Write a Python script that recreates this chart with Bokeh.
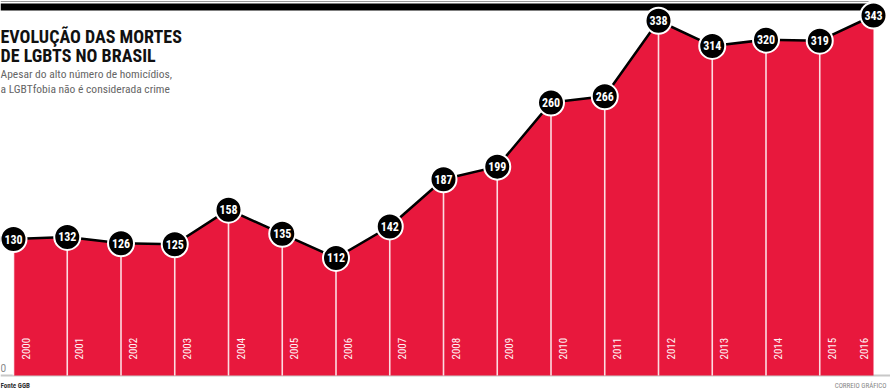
import math
from bokeh.plotting import figure
from bokeh.models import ColumnDataSource, Range1d
from bokeh.core.properties import value
from bokeh.embed import file_html
from bokeh.resources import INLINE

# ---------------- data ----------------
years = [2000, 2001, 2002, 2003, 2004, 2005, 2006, 2007, 2008,
         2009, 2010, 2011, 2012, 2013, 2014, 2015, 2016]
year_labels = [str(y) for y in years]
deaths = [130, 132, 126, 125, 158, 135, 112, 142, 187,
          199, 260, 266, 338, 314, 320, 319, 343]
title_lines = ["EVOLUÇÃO DAS MORTES", "DE LGBTS NO BRASIL"]
subtitle_lines = ["Apesar do alto número de homicídios,",
                  "a LGBTfobia não é considerada crime"]
source_text = "Fonte GGB"
credit_text = "CORREIO GRÁFICO"
zero_label = "0"

# ---------------- layout ----------------
W, H = 890, 390
X_FIRST_PX, X_LAST_PX = 13, 873
BASE_PX, TOP_VAL_PX = 375, 15
sx = (X_LAST_PX - X_FIRST_PX) / (years[-1] - years[0])
x_start = years[0] - X_FIRST_PX / sx
x_end = x_start + W / sx
sy = (BASE_PX - TOP_VAL_PX) / max(deaths)
y_end = max(deaths) + TOP_VAL_PX / sy
y_start = y_end - H / sy


def px_x(px):
    return x_start + px / sx


def px_y(py):
    return y_end - py / sy


RED = "#E8183D"
REG = "Roboto"
COND = "Roboto Condensed"
COND2 = "DejaVu Sans Condensed"

p = figure(width=W, height=H, x_range=Range1d(x_start, x_end),
           y_range=Range1d(y_start, y_end), output_backend="svg",
           toolbar_location=None, x_axis_type=None, y_axis_type=None,
           min_border=0, outline_line_color=None,
           background_fill_color="white", border_fill_color="white")
p.grid.visible = False

# baseline
p.segment(x0=[x_start], y0=[0], x1=[x_end], y1=[0],
          line_color="#c8c8c8", line_width=2)

src = ColumnDataSource(dict(
    year=years, deaths=deaths, zero=[0] * len(years),
    label=[str(v) for v in deaths], ylabel=year_labels,
    ylab_y=[px_y(BASE_PX - 16)] * len(years),
    xoff=[12] * (len(years) - 1) + [-10],
))

p.varea(x="year", y1="zero", y2="deaths", source=src, fill_color=RED)

vsrc = ColumnDataSource(dict(year=years[:-1], deaths=deaths[:-1],
                             zero=[0] * (len(years) - 1)))
p.segment(x0="year", y0="zero", x1="year", y1="deaths", source=vsrc,
          line_color="white", line_width=1.6, line_alpha=0.85)

p.line(x="year", y="deaths", source=src, line_color="black", line_width=2.5)

# top rules
p.quad(left=[x_start], right=[px_x(868)], top=[px_y(0.5)], bottom=[px_y(1.5)],
       fill_color="#9a9a9a", line_color=None)
p.quad(left=[x_start], right=[px_x(868)], top=[px_y(3)], bottom=[px_y(10)],
       fill_color="black", line_color=None)

p.scatter(x="year", y="deaths", source=src, size=26, fill_color="black",
          line_color="white", line_width=2)
p.text(x="year", y="deaths", text="label", source=src, text_color="white",
       text_font=value(COND), text_font_style="bold", text_font_size="12px",
       text_align="center", text_baseline="middle")

p.text(x="year", y="ylab_y", text="ylabel", source=src, angle=math.pi / 2,
       x_offset="xoff", text_color="#fff4f6", text_font=value(COND),
       text_font_size="11px", text_align="left", text_baseline="middle")

# zero label
p.text(x=[px_x(0)], y=[px_y(BASE_PX - 4)], text=[zero_label],
       text_color="#888888", text_font=value(REG), text_font_size="10px",
       text_align="left", text_baseline="bottom")

# title / subtitle
for i, t in enumerate(title_lines):
    p.text(x=[px_x(0)], y=[px_y(36 + 19 * i)], text=[t], text_color="#111111",
           text_font=value(COND), text_font_style="bold",
           text_font_size="18px", text_align="left", text_baseline="alphabetic")
for i, t in enumerate(subtitle_lines):
    p.text(x=[px_x(0)], y=[px_y(73 + 15 * i)], text=[t], text_color="#666666",
           text_font=value(COND), text_font_size="11.5px",
           text_align="left", text_baseline="alphabetic")

# footer
p.text(x=[px_x(0)], y=[px_y(385)], text=[source_text], text_color="#333333",
       text_font=value(COND), text_font_style="bold", text_font_size="7px",
       text_align="left", text_baseline="alphabetic")
p.text(x=[px_x(886)], y=[px_y(385)], text=[credit_text], text_color="#888888",
       text_font=value(COND), text_font_size="7px",
       text_align="right", text_baseline="alphabetic")

open("out.html", "w").write(file_html(p, INLINE))
